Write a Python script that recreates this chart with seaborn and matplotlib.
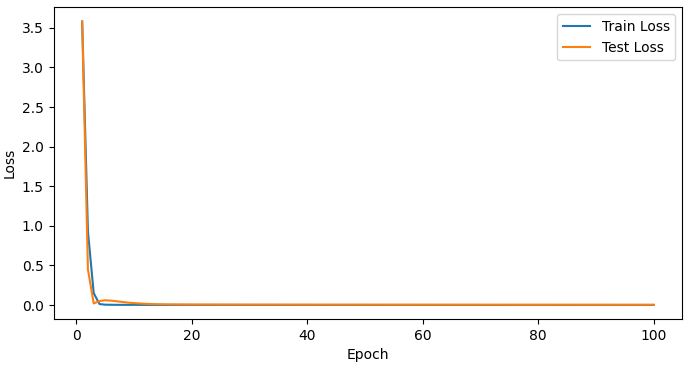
import matplotlib
matplotlib.use("Agg")
import matplotlib.pyplot as plt
import seaborn as sns
import pandas as pd

epochs = list(range(1, 101))

train_loss = [
    3.58, 0.93, 0.15, 0.012, 0.004, 0.003, 0.002, 0.002, 0.002, 0.002,
    0.0015, 0.0015, 0.0015, 0.0015, 0.0014, 0.0014, 0.0013, 0.0013, 0.0013, 0.0012,
    0.0012, 0.0012, 0.0012, 0.0011, 0.0011, 0.0011, 0.0011, 0.0011, 0.0010, 0.0010,
    0.0010, 0.0010, 0.0010, 0.0010, 0.0009, 0.0009, 0.0009, 0.0009, 0.0009, 0.0009,
    0.0009, 0.0008, 0.0008, 0.0008, 0.0008, 0.0008, 0.0008, 0.0008, 0.0008, 0.0007,
    0.0007, 0.0007, 0.0007, 0.0007, 0.0007, 0.0007, 0.0007, 0.0007, 0.0006, 0.0006,
    0.0006, 0.0006, 0.0006, 0.0006, 0.0006, 0.0006, 0.0006, 0.0006, 0.0006, 0.0005,
    0.0005, 0.0005, 0.0005, 0.0005, 0.0005, 0.0005, 0.0005, 0.0005, 0.0005, 0.0005,
    0.0005, 0.0005, 0.0004, 0.0004, 0.0004, 0.0004, 0.0004, 0.0004, 0.0004, 0.0004,
    0.0004, 0.0004, 0.0004, 0.0004, 0.0004, 0.0004, 0.0004, 0.0004, 0.0004, 0.0004,
]

test_loss = [
    3.58, 0.45, 0.02, 0.05, 0.06, 0.055, 0.047, 0.038, 0.030, 0.024,
    0.019, 0.015, 0.012, 0.010, 0.009, 0.008, 0.0075, 0.007, 0.0068, 0.0065,
    0.0063, 0.0061, 0.006, 0.0059, 0.0058, 0.0057, 0.0056, 0.0055, 0.0054, 0.0053,
    0.0052, 0.0052, 0.0051, 0.0051, 0.0050, 0.0050, 0.0049, 0.0049, 0.0048, 0.0048,
    0.0047, 0.0047, 0.0047, 0.0046, 0.0046, 0.0046, 0.0045, 0.0045, 0.0045, 0.0044,
    0.0044, 0.0044, 0.0043, 0.0043, 0.0043, 0.0043, 0.0042, 0.0042, 0.0042, 0.0042,
    0.0041, 0.0041, 0.0041, 0.0041, 0.0040, 0.0040, 0.0040, 0.0040, 0.0040, 0.0039,
    0.0039, 0.0039, 0.0039, 0.0039, 0.0038, 0.0038, 0.0038, 0.0038, 0.0038, 0.0038,
    0.0037, 0.0037, 0.0037, 0.0037, 0.0037, 0.0037, 0.0036, 0.0036, 0.0036, 0.0036,
    0.0036, 0.0036, 0.0036, 0.0035, 0.0035, 0.0035, 0.0035, 0.0035, 0.0035, 0.0035,
]

df = pd.DataFrame({
    "Epoch": epochs * 2,
    "Loss": train_loss + test_loss,
    "Series": ["Train Loss"] * len(epochs) + ["Test Loss"] * len(epochs),
})

fig, ax = plt.subplots(figsize=(6.87, 3.66), dpi=100)
sns.lineplot(data=df, x="Epoch", y="Loss", hue="Series",
             palette=["#1f77b4", "#ff7f0e"], linewidth=1.5, ax=ax)
ax.legend(title=None, loc="upper right")
ax.set_xlabel("Epoch")
ax.set_ylabel("Loss")
fig.subplots_adjust(left=0.078, right=0.993, top=0.98, bottom=0.128)
fig.savefig("out.png", dpi=100)
